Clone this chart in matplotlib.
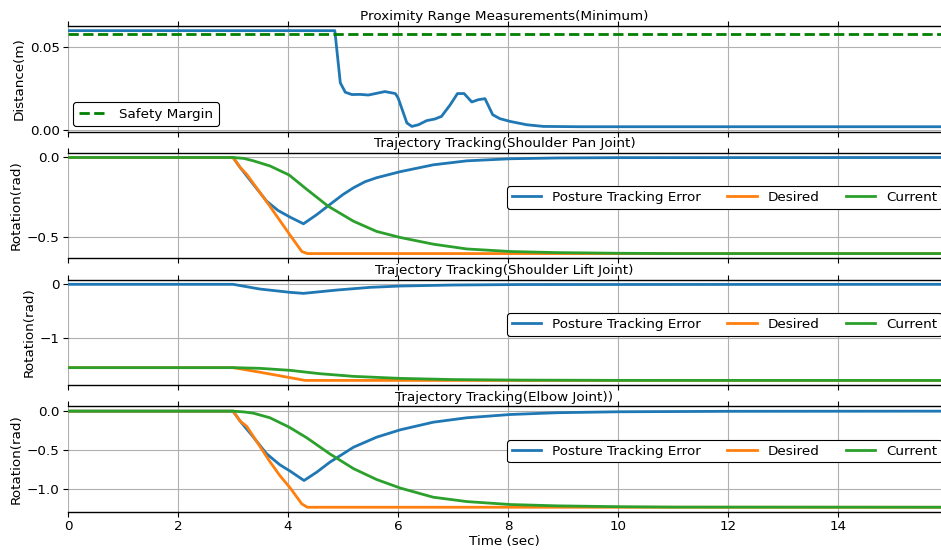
import matplotlib
matplotlib.use("Agg")
import matplotlib.pyplot as plt

plt.rcParams['font.family'] = ['DejaVu Sans']
plt.rcParams['font.size'] = 9.7

T_END = 15.87

# ---- Proximity range (minimum distance) ----
prox_t = [0, 4.85, 4.95, 5.04, 5.16, 5.31, 5.46, 5.76, 5.95, 6.0, 6.16, 6.25, 6.37,
          6.52, 6.67, 6.79, 6.95, 7.08, 7.2, 7.34, 7.46, 7.58, 7.72, 7.85, 8.04,
          8.34, 8.64, 9.31, 15.87]
prox_d = [0.060, 0.060, 0.0284, 0.0227, 0.0213, 0.0214, 0.021, 0.0231, 0.0219, 0.0193,
          0.0041, 0.0020, 0.0030, 0.0055, 0.0065, 0.0081, 0.0152, 0.0219, 0.0219,
          0.0168, 0.0182, 0.0188, 0.0091, 0.0067, 0.0050, 0.0030, 0.0020, 0.0018, 0.0018]
safety_margin = 0.058

# ---- Shoulder pan joint ----
pan_err_t = [0, 3.0, 3.13, 3.37, 3.61, 3.82, 4.04, 4.28, 4.52, 4.76, 5.0, 5.19, 5.4,
             5.61, 6.04, 6.64, 7.25, 8.04, 8.89, 10.0, 15.87]
pan_err = [0, 0, -0.063, -0.169, -0.274, -0.333, -0.375, -0.416, -0.359, -0.295, -0.232,
           -0.19, -0.152, -0.127, -0.089, -0.046, -0.021, -0.008, -0.003, -0.001, 0]
pan_des_t = [0, 3.0, 3.13, 3.25, 3.67, 4.04, 4.25, 4.35, 15.87]
pan_des = [0, 0, -0.063, -0.106, -0.306, -0.489, -0.59, -0.603, -0.603]
pan_cur_t = [0, 3.0, 3.2, 3.37, 3.67, 4.02, 4.34, 4.73, 5.19, 5.61, 6.04, 6.64, 7.25,
             8.04, 8.89, 10.0, 11.0, 15.87]
pan_cur = [0, 0, -0.006, -0.021, -0.053, -0.11, -0.20, -0.306, -0.40, -0.464, -0.502,
           -0.544, -0.574, -0.59, -0.597, -0.601, -0.603, -0.603]

# ---- Shoulder lift joint ----
lift_err_t = [0, 3.0, 3.49, 4.04, 4.28, 4.88, 5.49, 6.04, 7.0, 8.2, 15.87]
lift_err = [0, 0, -0.089, -0.151, -0.17, -0.108, -0.057, -0.032, -0.013, -0.004, 0]
lift_des_t = [0, 3.0, 3.49, 4.04, 4.31, 15.87]
lift_des = [-1.566, -1.566, -1.652, -1.755, -1.806, -1.806]
lift_cur_t = [0, 3.0, 3.49, 4.04, 4.58, 5.19, 6.04, 7.0, 8.2, 10.0, 15.87]
lift_cur = [-1.566, -1.566, -1.579, -1.617, -1.68, -1.73, -1.768, -1.79, -1.80, -1.805, -1.806]

# ---- Elbow joint ----
elb_err_t = [0, 3.0, 3.13, 3.37, 3.61, 3.85, 4.04, 4.29, 4.52, 4.76, 5.19, 5.61, 6.04,
             6.64, 7.25, 8.04, 8.89, 10.0, 12.0, 15.87]
elb_err = [0, 0, -0.129, -0.335, -0.549, -0.69, -0.773, -0.893, -0.786, -0.657, -0.464,
           -0.335, -0.24, -0.142, -0.085, -0.043, -0.02, -0.008, -0.002, 0]
elb_des_t = [0, 3.0, 3.13, 3.25, 3.67, 3.85, 4.04, 4.25, 4.35, 15.87]
elb_des = [0, 0, -0.129, -0.197, -0.65, -0.829, -0.99, -1.194, -1.237, -1.237]
elb_cur_t = [0, 3.0, 3.2, 3.37, 3.67, 4.02, 4.34, 4.76, 5.19, 5.61, 6.04, 6.64, 7.25,
             8.04, 8.89, 10.0, 11.0, 15.87]
elb_cur = [0, 0, -0.01, -0.026, -0.085, -0.206, -0.343, -0.55, -0.74, -0.88, -0.99,
           -1.108, -1.164, -1.202, -1.219, -1.23, -1.235, -1.237]

titles = ["Proximity Range Measurements(Minimum)",
          "Trajectory Tracking(Shoulder Pan Joint)",
          "Trajectory Tracking(Shoulder Lift Joint)",
          "Trajectory Tracking(Elbow Joint))"]

fig, axes = plt.subplots(4, 1, figsize=(9.41, 5.5), dpi=100, sharex=True)
fig.subplots_adjust(left=0.0723, right=1.0, bottom=0.069, top=0.953, hspace=0.2)

C0, C1, C2 = '#1f77b4', '#ff7f0e', '#2ca02c'
LW = 2.0

ax = axes[0]
ax.plot(prox_t, prox_d, color=C0, lw=LW)
ax.axhline(safety_margin, color='green', ls='--', lw=LW, label='Safety Margin')
ax.set_ylabel('Distance(m)', labelpad=3)
ax.set_yticks([0.0, 0.05])
ax.set_yticklabels(['0.00', '0.05'])
leg = ax.legend(loc='lower left', fancybox=True, framealpha=1, edgecolor='black',
                handlelength=2.2, borderaxespad=0.4)
leg.get_frame().set_linewidth(0.8)

joint_data = [
    (pan_err_t, pan_err, pan_des_t, pan_des, pan_cur_t, pan_cur),
    (lift_err_t, lift_err, lift_des_t, lift_des, lift_cur_t, lift_cur),
    (elb_err_t, elb_err, elb_des_t, elb_des, elb_cur_t, elb_cur),
]
for ax, (et, e, dt, d, ct, c) in zip(axes[1:], joint_data):
    ax.plot(et, e, color=C0, lw=LW, label='Posture Tracking Error')
    ax.plot(dt, d, color=C1, lw=LW, label='Desired')
    ax.plot(ct, c, color=C2, lw=LW, label='Current')
    ax.set_ylabel('Rotation(rad)', labelpad=3)
    leg = ax.legend(loc='center left', bbox_to_anchor=(0.495, 0.575), ncol=3,
                    framealpha=1, edgecolor='black', handlelength=2.2,
                    columnspacing=1.95, borderpad=0.35)
    leg.get_frame().set_linewidth(0.8)

axes[1].set_yticks([0.0, -0.5])
axes[2].set_yticks([0, -1])
axes[3].set_yticks([0.0, -0.5, -1.0])

for ax, title in zip(axes, titles):
    ax.set_title(title, fontsize=9.7, pad=4)
    ax.grid(True, color='#b0b0b0', lw=0.8)
    ax.set_axisbelow(True)
    ax.spines['left'].set_visible(False)
    ax.spines['right'].set_visible(False)
    ax.spines['top'].set_linewidth(1.0)
    ax.spines['bottom'].set_linewidth(1.0)
    ax.tick_params(axis='x', top=True, bottom=True, direction='out', length=3.5, pad=2.5)
    ax.tick_params(axis='y', left=True, length=3.5, pad=2.5)
    ax.set_xlim(0, T_END)

axes[-1].set_xticks([0, 2, 4, 6, 8, 10, 12, 14])
axes[-1].set_xlabel('Time (sec)', labelpad=1)

fig.savefig('out.png', dpi=100)
